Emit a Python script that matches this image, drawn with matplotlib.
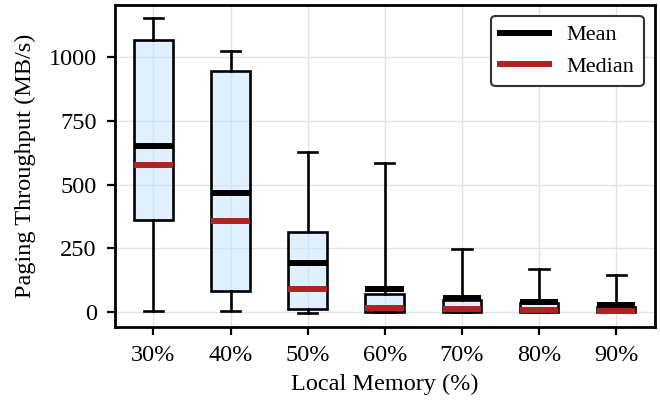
import numpy as np
import matplotlib
matplotlib.use("Agg")
import matplotlib.pyplot as plt
from matplotlib.lines import Line2D

# values (MB/s)
labels = ['30%', '40%', '50%', '60%', '70%', '80%', '90%']
whis_lo = [4, 3, -3, 0, 0, 0, 0]
q1 = [362, 81, 12, 0, 0, 0, 0]
medians = [578, 359, 89, 16, 12, 10, 6]
q3 = [1067, 946, 314, 71, 47, 36, 20]
whis_hi = [1153, 1025, 627, 585, 249, 170, 147]
means = [653, 467, 191, 92, 55, 40, 28]

plt.rcParams['font.family'] = ['Liberation Serif', 'DejaVu Serif']

fig = plt.figure(figsize=(6.6, 4.04), dpi=100)
ax = fig.add_axes([0.174, 0.191, 0.818, 0.797])

stats = []
for i in range(len(labels)):
    stats.append(dict(whislo=whis_lo[i], q1=q1[i], med=medians[i], q3=q3[i],
                      whishi=whis_hi[i], mean=means[i], fliers=[], label=labels[i]))

ax.bxp(stats, positions=np.arange(len(labels)), widths=0.5, patch_artist=True,
       showmeans=True, meanline=True, showfliers=False,
       boxprops=dict(facecolor=(0.8, 0.9, 1.0, 0.6), edgecolor='black', linewidth=1.9),
       whiskerprops=dict(color='black', linewidth=1.9),
       capprops=dict(color='black', linewidth=1.9),
       medianprops=dict(color='#b22222', linewidth=4.3, solid_capstyle='butt'),
       meanprops=dict(color='black', linestyle='-', linewidth=4.3, solid_capstyle='butt'))

ax.set_xlim(-0.5, len(labels) - 0.5)
ax.set_ylim(-58, 1205)
ax.set_yticks([0, 250, 500, 750, 1000])
ax.grid(True, color='#e3e3e3', linewidth=1.0)
ax.set_axisbelow(True)

for s in ax.spines.values():
    s.set_linewidth(2.0)
ax.tick_params(labelsize=17.5, length=6, width=1.6, pad=7)
ax.set_xlabel('Local Memory (%)', fontsize=17.5, labelpad=6)
ax.set_ylabel('Paging Throughput (MB/s)', fontsize=17.5, labelpad=9)

handles = [Line2D([], [], color='black', linewidth=4.3),
           Line2D([], [], color='#b22222', linewidth=4.3)]
leg = ax.legend(handles, ['Mean', 'Median'], loc='upper right', fontsize=16,
                handlelength=2.2, frameon=True, fancybox=True, framealpha=1)
leg.get_frame().set_edgecolor('#333333')
leg.get_frame().set_linewidth(1.5)

fig.savefig('out.png', dpi=100)
